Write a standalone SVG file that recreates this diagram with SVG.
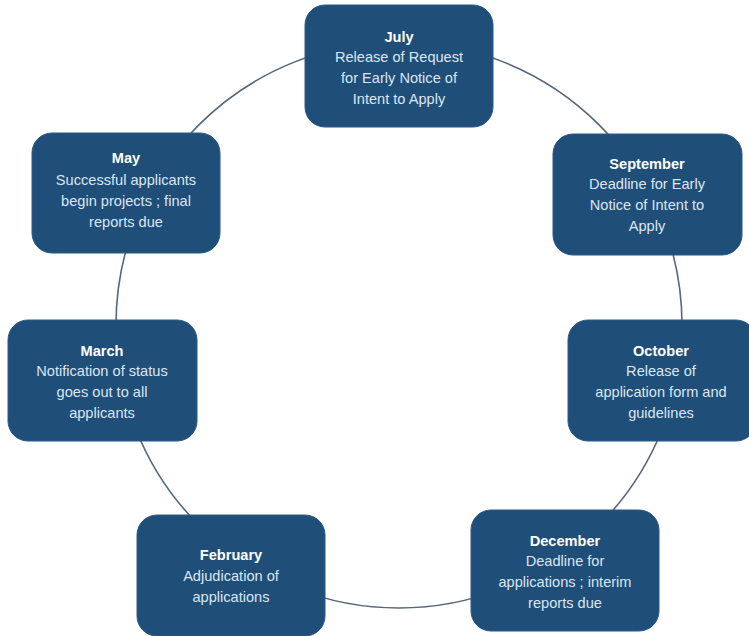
<svg xmlns="http://www.w3.org/2000/svg" width="749" height="636" viewBox="0 0 749 636">
<style>
.box{fill:#1f4e79;stroke:#2a5a88;stroke-width:1}
.t{font-family:"Liberation Sans",Arial,sans-serif;font-size:14.6px;text-anchor:middle;fill:#dce6f2}
.h{font-weight:bold;fill:#ffffff}
.c{fill:none;stroke:#56667e;stroke-width:1.6}
</style>
<rect width="749" height="636" fill="#ffffff"/>
<g id="connectors">
<circle class="c" cx="399" cy="325" r="283"/>
</g>
<g id="july">
<rect class="box" x="305" y="5" width="188" height="122" rx="20"/>
<text class="t h" x="399" y="42">July</text>
<text class="t" x="399" y="62">Release of Request</text>
<text class="t" x="399" y="83">for Early Notice of</text>
<text class="t" x="399" y="104">Intent to Apply</text>
</g>
<g id="september">
<rect class="box" x="553" y="134" width="189" height="121" rx="20"/>
<text class="t h" x="647" y="169">September</text>
<text class="t" x="647" y="189">Deadline for Early</text>
<text class="t" x="647" y="210">Notice of Intent to</text>
<text class="t" x="647" y="231">Apply</text>
</g>
<g id="october">
<rect class="box" x="568" y="320" width="188" height="121" rx="20"/>
<text class="t h" x="661" y="356">October</text>
<text class="t" x="661" y="376">Release of</text>
<text class="t" x="661" y="397">application form and</text>
<text class="t" x="661" y="418">guidelines</text>
</g>
<g id="december">
<rect class="box" x="471" y="510" width="188" height="121" rx="20"/>
<text class="t h" x="565" y="546">December</text>
<text class="t" x="565" y="566">Deadline for</text>
<text class="t" x="565" y="587">applications ; interim</text>
<text class="t" x="565" y="608">reports due</text>
</g>
<g id="february">
<rect class="box" x="137" y="515" width="188" height="121" rx="20"/>
<text class="t h" x="231" y="560">February</text>
<text class="t" x="231" y="581">Adjudication of</text>
<text class="t" x="231" y="602">applications</text>
</g>
<g id="march">
<rect class="box" x="8" y="320" width="189" height="121" rx="20"/>
<text class="t h" x="102" y="356">March</text>
<text class="t" x="102" y="376">Notification of status</text>
<text class="t" x="102" y="397">goes out to all</text>
<text class="t" x="102" y="418">applicants</text>
</g>
<g id="may">
<rect class="box" x="32" y="133" width="188" height="120" rx="20"/>
<text class="t h" x="126" y="163">May</text>
<text class="t" x="126" y="185">Successful applicants</text>
<text class="t" x="126" y="206">begin projects ; final</text>
<text class="t" x="126" y="227">reports due</text>
</g>
</svg>
